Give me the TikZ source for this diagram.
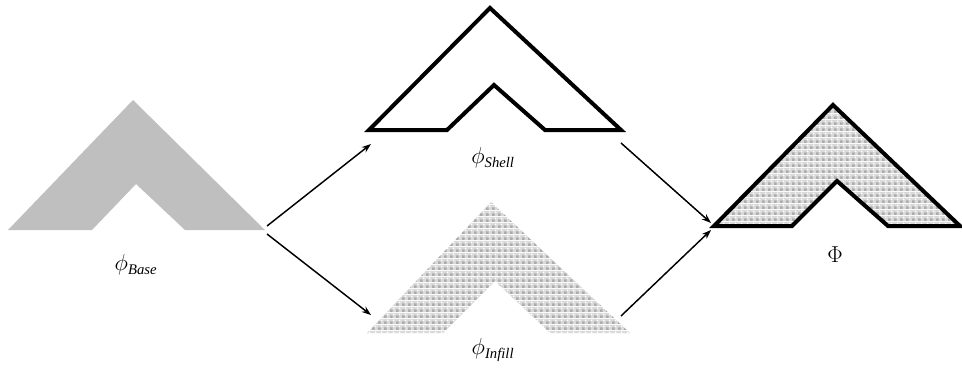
\documentclass[tikz,border=0pt]{standalone}
\usepackage{fontspec}
\setmainfont{Liberation Serif}
\usetikzlibrary{arrows.meta,patterns.meta}

\tikzdeclarepattern{
  name=infilldots, type=colored,
  bottom left={(0pt,0pt)}, top right={(4.5pt,4.5pt)},
  tile size={(4.5pt,4.5pt)},
  code={
    \fill[gray!30] (0pt,0pt) rectangle (4.5pt,4.5pt);
    \fill[gray!65] (0pt,0pt) rectangle (2.2pt,2.2pt);
    \fill[white] (2.6pt,2.6pt) rectangle (3.9pt,3.9pt);
  }
}
\newcommand{\subtxt}[1]{\mbox{\fontsize{11}{12}\selectfont\itshape #1}}

\begin{document}
\begin{tikzpicture}[x=0.75pt,y=-0.75pt,
  base/.style={fill=gray!50},
  shell/.style={draw=black, line width=3pt, line join=miter},
  infill/.style={pattern=infilldots},
  arrow/.style={-{Stealth[length=7pt,width=5pt]}, line width=1.1pt},
  lbl/.style={font=\fontsize{18}{20}\selectfont, inner sep=0pt}
]
\useasboundingbox (0,0) rectangle (962,371);

% the base part
\fill[base] (8,230) -- (133,100) -- (265,230) -- (185,230) -- (136,184) -- (92,230) -- cycle;
\coordinate (base-r) at (265,230);
\node[lbl] (lbase) at (136,265) {$\phi_{\subtxt{Base}}$};

% shell
\draw[shell] (369,130) -- (490,8) -- (621,130) -- (545,130) -- (494,85) -- (447,130) -- cycle;
\coordinate (shell-l) at (367,132);
\coordinate (shell-r) at (623,132);
\node[lbl] (lshell) at (493,158) {$\phi_{\subtxt{Shell}}$};

% infill
\fill[infill] (367,333) -- (491,202) -- (630,333) -- (550,333) -- (495,281) -- (443,333) -- cycle;
\coordinate (infill-l) at (367,333);
\coordinate (infill-r) at (630,333);
\node[lbl] (linfill) at (493,350) {$\phi_{\subtxt{Infill}}$};

% shell + infill
\fill[infill] (714,226) -- (833,105) -- (960,226) -- (888,226) -- (837,181) -- (792,226) -- cycle;
\draw[shell] (714,226) -- (833,105) -- (960,226) -- (888,226) -- (837,181) -- (792,226) -- cycle;
\coordinate (total-l) at (713,227);
\node[lbl, font=\fontsize{16}{18}\selectfont] (lphi) at (835,255) {$\Phi$};

\draw[arrow] ([shift={(2,-4)}]base-r) -- ([shift={(4,12)}]shell-l);
\draw[arrow] ([shift={(2,4)}]base-r) -- ([shift={(4,-18)}]infill-l);
\draw[arrow] ([shift={(-2,11)}]shell-r) -- ([shift={(-2,-4)}]total-l);
\draw[arrow] ([shift={(-9,-17)}]infill-r) -- ([shift={(-2,3)}]total-l);
\end{tikzpicture}
\end{document}
